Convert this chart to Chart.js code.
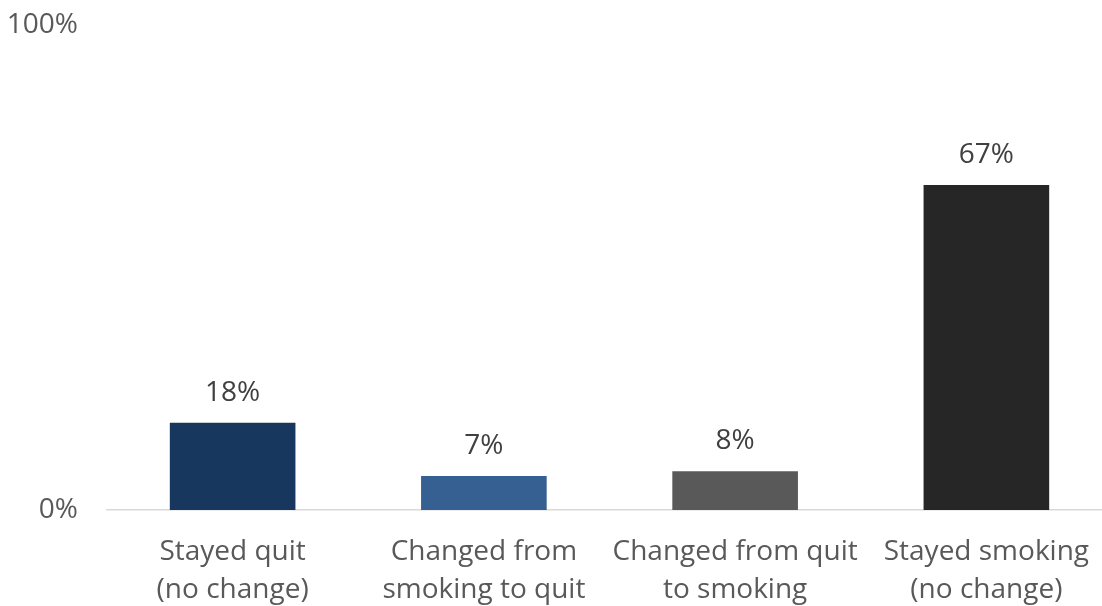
<!DOCTYPE html>
<html>
<head>
<meta charset="utf-8">
<script src="https://cdn.jsdelivr.net/npm/chart.js@4.4.0/dist/chart.umd.min.js"></script>
<style>
  body { margin: 0; background: #fff; }
  #wrap { width: 1102px; height: 606px; overflow: hidden; }
</style>
</head>
<body>
<div id="wrap"><canvas id="myChart" width="1112" height="606"></canvas></div>
<script>
const categories = [
  ["Stayed quit", "(no change)"],
  ["Changed from", "smoking to quit"],
  ["Changed from quit", "to smoking"],
  ["Stayed smoking", "(no change)"]
];
const values = [18, 7, 8, 67];
const barColors = ["#17375e", "#366092", "#595959", "#262626"];
const yTicks = [0, 100];

const FONT = "'Open Sans', sans-serif";

// draws the value above each bar
const valueLabels = {
  id: "valueLabels",
  afterDatasetsDraw(chart) {
    const ctx = chart.ctx;
    const meta = chart.getDatasetMeta(0);
    ctx.save();
    ctx.font = "28px " + FONT;
    ctx.fillStyle = "#404040";
    ctx.textAlign = "center";
    ctx.textBaseline = "middle";
    meta.data.forEach((bar, i) => {
      ctx.fillText(values[i] + "%", bar.x, bar.y - 30);
    });
    ctx.restore();
  }
};

const ctx = document.getElementById("myChart");
const chartInstance = new Chart(ctx, {
  type: "bar",
  data: {
    labels: categories,
    datasets: [
      {
        data: values,
        backgroundColor: barColors,
        categoryPercentage: 1,
        barPercentage: 0.5,
      },
    ],
  },
  options: {
    responsive: false,
    animation: false,
    layout: { padding: { top: 25, right: 0, left: 0, bottom: 0 } },
    plugins: { legend: { display: false }, tooltip: { enabled: false } },
    scales: {
      x: {
        grid: { display: false },
        border: { display: true, color: "#d9d9d9", width: 1.5 },
        ticks: {
          color: "#595959",
          font: { family: FONT, size: 28, lineHeight: 1.36 },
          padding: 15,
          maxRotation: 0,
          autoSkip: false,
        },
        afterFit: (s) => { s.height = 96; },
      },
      y: {
        min: 0,
        max: 100,
        grid: { display: false },
        border: { display: false },
        afterBuildTicks: (s) => { s.ticks = yTicks.map((v) => ({ value: v })); },
        ticks: {
          color: "#595959",
          font: { family: FONT, size: 28 },
          padding: 21,
          callback: (v) => v + "%",
        },
        afterFit: (s) => {
          s.width = 107;
          s.paddingTop = 0;
          s.paddingBottom = 0;
        },
      },
    },
  },
  plugins: [valueLabels],
});
</script>
</body>
</html>
